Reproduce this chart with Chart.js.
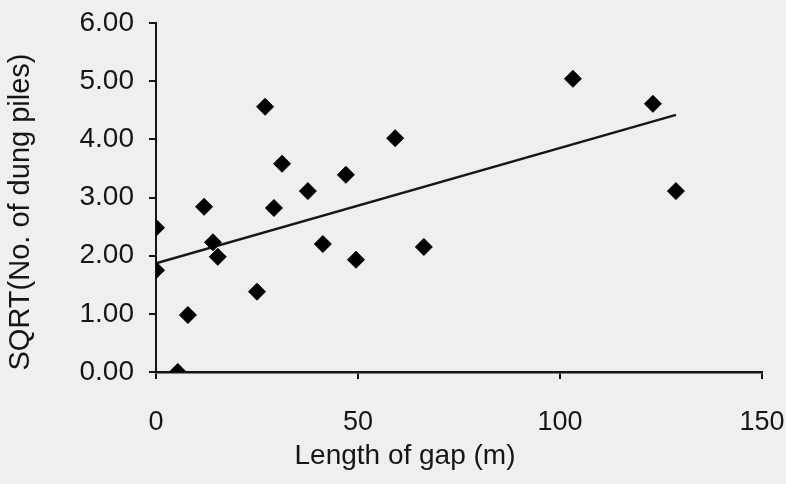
<!DOCTYPE html>
<html>
<head>
<meta charset="utf-8">
<script src="https://cdn.jsdelivr.net/npm/chart.js@4/dist/chart.umd.min.js"></script>
<style>
  html, body { margin: 0; padding: 0; background: #efefed; }
  #wrap { width: 786px; height: 484px; position: relative; }
</style>
</head>
<body>
<div id="wrap"><canvas id="c" width="786" height="484"></canvas></div>
<script>
// Length of gap (m)
const gapLength = [0, 0, 5.4, 7.9, 11.9, 14.1, 15.3, 25.0, 27.0, 29.2, 31.2, 37.6, 41.3, 47.0, 49.5, 59.2, 66.3, 103.2, 123.0, 128.7];
// SQRT(No. of dung piles)
const sqrtDung = [2.48, 1.75, 0.00, 0.98, 2.84, 2.23, 1.98, 1.38, 4.56, 2.82, 3.58, 3.11, 2.20, 3.39, 1.93, 4.02, 2.15, 5.04, 4.61, 3.11];
// Linear trend line endpoints
const trendX = [0, 128.7];
const trendY = [1.87, 4.42];
const xTicks = [0, 50, 100, 150];
const yTicks = [0, 1, 2, 3, 4, 5, 6];
const xTitle = 'Length of gap (m)';
const yTitle = 'SQRT(No. of dung piles)';

const ink = '#161616';
const FONT = "'Liberation Sans', Arial, sans-serif";

const titlesPlugin = {
  id: 'axisTitles',
  afterDraw(chart) {
    const ctx = chart.ctx;
    ctx.save();
    ctx.fillStyle = ink;
    ctx.font = '28px ' + FONT;
    ctx.textAlign = 'center';
    ctx.textBaseline = 'middle';
    ctx.fillText(xTitle, 405, 456);
    ctx.translate(21, 212);
    ctx.rotate(-Math.PI / 2);
    ctx.font = '29px ' + FONT;
    ctx.fillText(yTitle, 0, 0);
    ctx.restore();
  }
};

new Chart(document.getElementById('c'), {
  type: 'scatter',
  data: {
    datasets: [
      {
        label: 'Trend',
        type: 'line',
        data: trendX.map((x, i) => ({ x, y: trendY[i] })),
        borderColor: ink,
        borderWidth: 2.5,
        pointRadius: 0,
        fill: false,
        order: 2
      },
      {
        label: 'Gaps',
        data: gapLength.map((x, i) => ({ x, y: sqrtDung[i] })),
        pointStyle: 'rectRot',
        pointRadius: 8.5,
        backgroundColor: '#000',
        borderColor: '#000',
        borderWidth: 1,
        order: 1
      }
    ]
  },
  options: {
    responsive: false,
    animation: false,
    layout: { padding: { left: 0, top: 23, right: 24, bottom: 0 } },
    plugins: { legend: { display: false }, tooltip: { enabled: false } },
    scales: {
      x: {
        type: 'linear',
        min: 0, max: 150,
        afterBuildTicks(s) { s.ticks = xTicks.map(v => ({ value: v })); },
        afterFit(s) { s.height = 112; s.paddingLeft = 0; s.paddingRight = 0; },
        grid: { drawOnChartArea: false, drawTicks: true, tickLength: 7, color: ink, lineWidth: 2 },
        border: { display: true, color: ink, width: 2.5 },
        ticks: { color: ink, font: { family: FONT, size: 27 }, padding: 27, maxRotation: 0 }
      },
      y: {
        type: 'linear',
        min: 0, max: 6,
        afterBuildTicks(s) { s.ticks = yTicks.map(v => ({ value: v })); },
        afterFit(s) { s.width = 156; s.paddingTop = 0; s.paddingBottom = 0; },
        grid: { drawOnChartArea: false, drawTicks: true, tickLength: 7, color: ink, lineWidth: 2 },
        border: { display: true, color: ink, width: 2 },
        ticks: { color: ink, font: { family: FONT, size: 28 }, padding: 15, callback: v => v.toFixed(2) }
      }
    }
  },
  plugins: [titlesPlugin]
});
</script>
</body>
</html>
